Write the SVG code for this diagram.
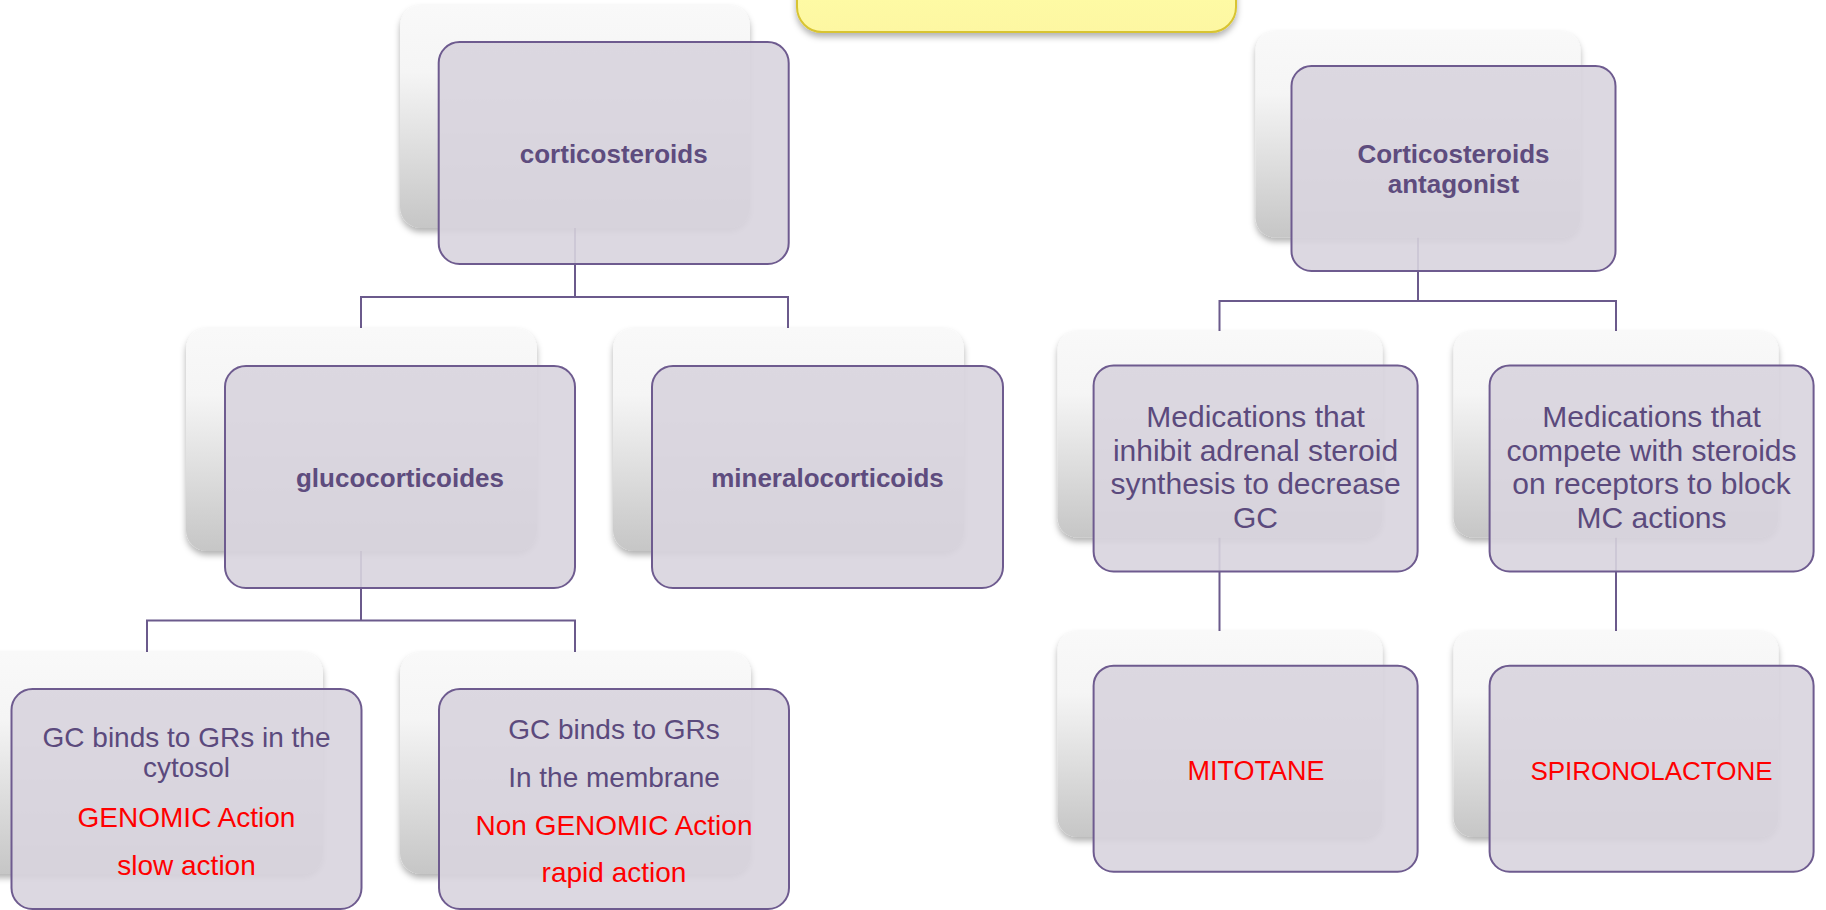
<svg xmlns="http://www.w3.org/2000/svg" width="1826" height="910" viewBox="0 0 1826 910">
  <defs>
    <linearGradient id="gBack" x1="0" y1="0" x2="0" y2="1">
      <stop offset="0" stop-color="#F9F9F9"/>
      <stop offset="0.3" stop-color="#F5F5F5"/>
      <stop offset="1" stop-color="#C6C6C6"/>
    </linearGradient>
    <linearGradient id="gYellow" x1="0" y1="0" x2="0" y2="1">
      <stop offset="0" stop-color="#FFFFA8"/>
      <stop offset="1" stop-color="#FDF7A2"/>
    </linearGradient>
    <filter id="shadow" x="-10%" y="-10%" width="120%" height="125%">
      <feDropShadow dx="0" dy="4" stdDeviation="3" flood-color="#000" flood-opacity="0.3"/>
    </filter>
    <style>
      .back { fill: url(#gBack); filter: url(#shadow); }
      .front { fill: #D8D4DE; fill-opacity: 0.9; stroke: #6E5B8F; stroke-width: 2; }
      .conn { fill: none; stroke: #6B5A8C; stroke-width: 2; }
      .title { font-family: "Liberation Sans", Arial, sans-serif; font-weight: bold; font-size: 26px; fill: #5E4C7E; text-anchor: middle; }
      .body { font-family: "Liberation Sans", Arial, sans-serif; font-size: 28px; fill: #5B4A7D; text-anchor: middle; }
      .med { font-size: 30px; }
      .red { fill: #FF0000; }
    </style>
  </defs>
  <rect width="1826" height="910" fill="#FFFFFF"/>

  <g id="header">
    <rect x="797" y="-60" width="439" height="92" rx="25" fill="url(#gYellow)" stroke="#D8C430" stroke-width="2" filter="url(#shadow)"/>
  </g>

  <g id="connectors">
    <path class="conn" d="M575,228 V297 M361,328 V297 H788 V328"/>
    <path class="conn" d="M361,551 V620.5 M147,652 V620.5 H575 V652"/>
    <path class="conn" d="M1418,237.5 V301 M1219.5,331 V301 H1616 V331"/>
    <path class="conn" d="M1219.5,537.5 V631 M1616,537.5 V631"/>
  </g>

  <g id="node-corticosteroids">
    <rect class="back" x="400" y="5" width="350" height="223" rx="21"/>
    <rect class="front" x="438.7" y="42" width="350" height="222" rx="21"/>
    <text class="title" x="613.7" y="163">corticosteroids</text>
  </g>

  <g id="node-glucocorticoides">
    <rect class="back" x="186" y="328" width="351" height="223" rx="21"/>
    <rect class="front" x="225" y="366" width="350" height="222" rx="21"/>
    <text class="title" x="400" y="487">glucocorticoides</text>
  </g>

  <g id="node-mineralocorticoids">
    <rect class="back" x="613" y="328" width="351" height="223" rx="21"/>
    <rect class="front" x="652" y="366" width="351" height="222" rx="21"/>
    <text class="title" x="827.5" y="487">mineralocorticoids</text>
  </g>

  <g id="node-gc-cytosol">
    <rect class="back" x="-28" y="652" width="351" height="222" rx="21"/>
    <rect class="front" x="11.5" y="689" width="350" height="220" rx="21"/>
    <text class="body" x="186.5" y="746.7">GC binds to GRs in the</text>
    <text class="body" x="186.5" y="776.7">cytosol</text>
    <text class="body red" x="186.5" y="826.7">GENOMIC Action</text>
    <text class="body red" x="186.5" y="875">slow action</text>
  </g>

  <g id="node-gc-membrane">
    <rect class="back" x="400" y="652" width="351" height="222" rx="21"/>
    <rect class="front" x="439" y="689" width="350" height="220" rx="21"/>
    <text class="body" x="614" y="739.3">GC binds to GRs</text>
    <text class="body" x="614" y="786.7">In the membrane</text>
    <text class="body red" x="614" y="835">Non GENOMIC Action</text>
    <text class="body red" x="614" y="881.7">rapid action</text>
  </g>

  <g id="node-antagonist">
    <rect class="back" x="1255.5" y="31" width="325" height="206.5" rx="20"/>
    <rect class="front" x="1291.5" y="66" width="324" height="205" rx="20"/>
    <text class="title" x="1453.5" y="162.5">Corticosteroids</text>
    <text class="title" x="1453.5" y="193">antagonist</text>
  </g>

  <g id="node-inhibit">
    <rect class="back" x="1057.5" y="331" width="325" height="206.5" rx="20"/>
    <rect class="front" x="1093.6" y="365.5" width="324" height="206" rx="20"/>
    <text class="body med" x="1255.5" y="427">Medications that</text>
    <text class="body med" x="1255.5" y="460.5">inhibit adrenal steroid</text>
    <text class="body med" x="1255.5" y="494">synthesis to decrease</text>
    <text class="body med" x="1255.5" y="527.5">GC</text>
  </g>

  <g id="node-compete">
    <rect class="back" x="1453.5" y="331" width="325" height="206.5" rx="20"/>
    <rect class="front" x="1489.6" y="365.5" width="324" height="206" rx="20"/>
    <text class="body med" x="1651.5" y="427">Medications that</text>
    <text class="body med" x="1651.5" y="460.5">compete with steroids</text>
    <text class="body med" x="1651.5" y="494">on receptors to block</text>
    <text class="body med" x="1651.5" y="527.5">MC actions</text>
  </g>

  <g id="node-mitotane">
    <rect class="back" x="1057.5" y="631" width="325" height="206" rx="20"/>
    <rect class="front" x="1093.6" y="665.7" width="324" height="206" rx="20"/>
    <text class="body red" x="1256" y="780" style="font-size:27px">MITOTANE</text>
  </g>

  <g id="node-spironolactone">
    <rect class="back" x="1453.5" y="631" width="325" height="206" rx="20"/>
    <rect class="front" x="1489.6" y="665.7" width="324" height="206" rx="20"/>
    <text class="body red" x="1651.5" y="780" style="font-size:26px">SPIRONOLACTONE</text>
  </g>
</svg>
